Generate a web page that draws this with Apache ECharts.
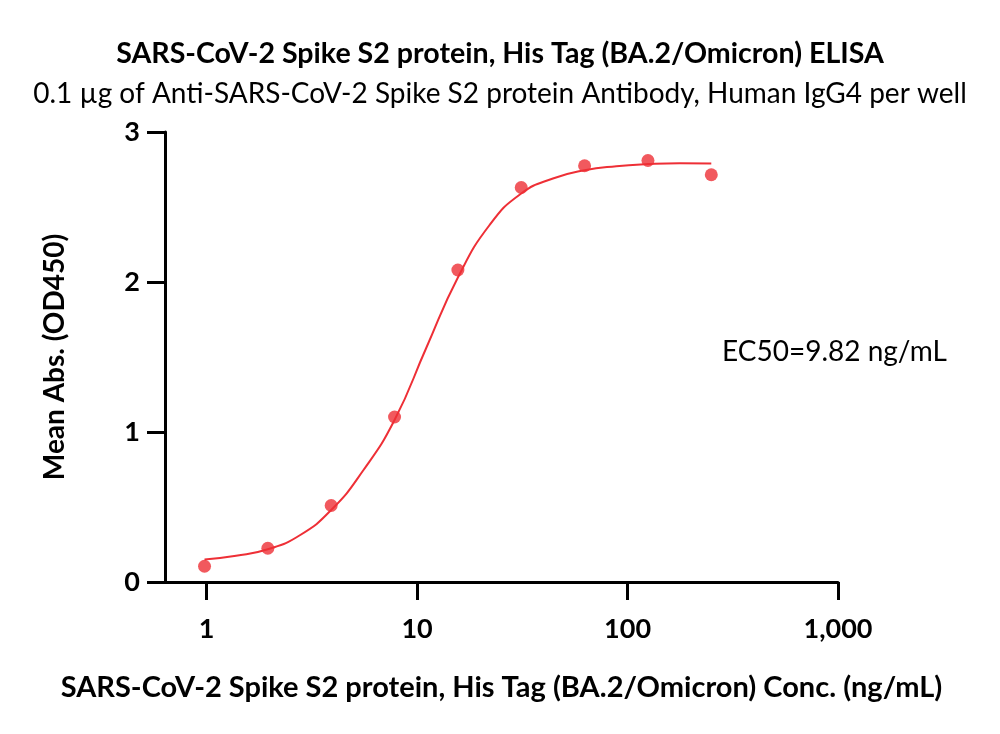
<!DOCTYPE html>
<html>
<head>
<meta charset="utf-8">
<script src="https://cdn.jsdelivr.net/npm/echarts@6/dist/echarts.min.js"></script>
<style>
  html, body { margin: 0; padding: 0; background: #ffffff; }
  #chart { width: 1000px; height: 734px; }
</style>
</head>
<body>
<div id="chart"></div>
<script>
// Measured data points (concentration in ng/mL, mean absorbance OD450)
const concentrations = [0.977, 1.953, 3.906, 7.813, 15.625, 31.25, 62.5, 125, 250];
const meanAbs = [0.105, 0.225, 0.51, 1.10, 2.08, 2.63, 2.775, 2.81, 2.715];

// Fitted curve (at half-dilution steps)
const fitConc = [0.977, 1.38, 1.953, 2.76, 3.906, 5.52, 7.813, 11.05, 15.625, 22.1, 31.25, 44.2, 62.5, 88.4, 125, 177, 250];
const fitAbs = [0.15, 0.175, 0.218, 0.31, 0.48, 0.74, 1.08, 1.56, 2.03, 2.38, 2.59, 2.69, 2.745, 2.772, 2.786, 2.792, 2.79];

// Axis tick labels
const xTicks = [1, 10, 100, 1000];
const xTickLabels = ['1', '10', '100', '1,000'];
const yTicks = [0, 1, 2, 3];

const titleText = 'SARS-CoV-2 Spike S2 protein, His Tag (BA.2/Omicron) ELISA';
const subtitleText = '0.1 µg of Anti-SARS-CoV-2 Spike S2 protein Antibody, Human IgG4 per well';
const xName = 'SARS-CoV-2 Spike S2 protein, His Tag (BA.2/Omicron) Conc. (ng/mL)';
const yName = 'Mean Abs. (OD450)';
const ec50Text = 'EC50=9.82 ng/mL';

const FONT = 'Lato, "Open Sans", sans-serif';
const RED = '#ee2f36';

const chart = echarts.init(document.getElementById('chart'), null, { renderer: 'canvas' });

const option = {
  backgroundColor: '#ffffff',
  animation: false,
  title: [
    { text: titleText, left: 'center', top: 34,
      textStyle: { fontFamily: FONT, fontSize: 28.6, fontWeight: 'bold', color: '#000' } },
    { text: subtitleText, left: 'center', top: 75,
      textStyle: { fontFamily: FONT, fontSize: 28, fontWeight: 'normal', color: '#000' } }
  ],
  grid: { left: 165, right: 162, top: 132, bottom: 152, containLabel: false },
  xAxis: {
    type: 'log',
    logBase: 10,
    min: 0.634,
    max: 1000,
    name: xName,
    nameLocation: 'middle',
    nameGap: 91,
    nameTextStyle: { fontFamily: FONT, fontSize: 29, fontWeight: 'bold', color: '#000' },
    axisLine: { show: true, lineStyle: { color: '#000', width: 3 } },
    axisTick: { show: true, length: 18, lineStyle: { color: '#000', width: 3 }, customValues: xTicks },
    axisLabel: {
      show: true, margin: 34, fontFamily: FONT, fontSize: 27, fontWeight: 'bold', color: '#000',
      customValues: xTicks,
      formatter: function (v) {
        const i = xTicks.findIndex(t => Math.abs(t - v) / t < 1e-6);
        return i >= 0 ? xTickLabels[i] : '';
      }
    },
    splitLine: { show: false }
  },
  yAxis: {
    type: 'value',
    min: 0,
    max: 3,
    interval: 1,
    name: yName,
    nameLocation: 'middle',
    nameGap: 96,
    nameRotate: 90,
    nameTextStyle: { fontFamily: FONT, fontSize: 28, fontWeight: 'bold', color: '#000' },
    axisLine: { show: true, lineStyle: { color: '#000', width: 3 } },
    axisTick: { show: true, length: 18, lineStyle: { color: '#000', width: 3 } },
    axisLabel: { show: true, margin: 25, fontFamily: FONT, fontSize: 27, fontWeight: 'bold', color: '#000',
      formatter: function (v) { return yTicks.indexOf(v) >= 0 ? String(v) : ''; } },
    splitLine: { show: false }
  },
  graphic: [
    { type: 'text', left: 722, top: 338,
      style: { text: ec50Text, fontFamily: FONT, fontSize: 28, fill: '#000' } }
  ],
  series: [
    {
      type: 'line',
      data: fitConc.map((c, i) => [c, fitAbs[i]]),
      smooth: 0.5,
      showSymbol: false,
      lineStyle: { color: RED, width: 2 },
      z: 2
    },
    {
      type: 'scatter',
      data: concentrations.map((c, i) => [c, meanAbs[i]]),
      symbol: 'circle',
      symbolSize: 13,
      itemStyle: { color: RED },
      z: 3
    }
  ]
};

chart.setOption(option);
</script>
</body>
</html>
